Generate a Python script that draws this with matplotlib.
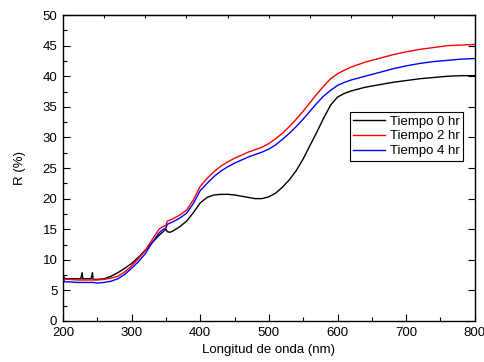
import matplotlib
matplotlib.use('Agg')
import matplotlib.pyplot as plt
import numpy as np

plt.rcParams['font.family'] = ['Liberation Sans', 'DejaVu Sans']

wavelength = [200, 202, 205, 210, 220, 226, 228, 229, 235, 241, 243, 244, 250,
              260, 270, 280, 290, 300, 310, 320, 330, 340, 345, 350, 352, 356, 360,
              370, 380, 390, 400, 410, 420, 430, 440, 450, 460, 470, 480, 490, 500,
              510, 520, 530, 540, 550, 560, 570, 580, 590, 600, 610, 620, 640, 660,
              680, 700, 720, 740, 760, 780, 800]

r_0hr = [7.6, 7.0, 6.9, 6.9, 6.9, 6.9, 7.9, 6.9, 6.9, 6.9, 7.9, 6.8, 6.8,
         6.9, 7.3, 7.9, 8.6, 9.4, 10.4, 11.6, 12.8, 14.0, 14.5, 15.0, 14.6, 14.5, 14.7,
         15.4, 16.3, 17.7, 19.3, 20.2, 20.6, 20.7, 20.7, 20.6, 20.4, 20.2, 20.0, 20.0, 20.3,
         20.9, 21.9, 23.1, 24.6, 26.5, 28.7, 30.9, 33.2, 35.3, 36.6, 37.2, 37.6, 38.2, 38.6,
         39.0, 39.3, 39.6, 39.8, 40.0, 40.1, 40.1]

r_2hr = [7.3, 6.9, 6.8, 6.8, 6.7, 6.7, 6.7, 6.7, 6.7, 6.7, 6.7, 6.7, 6.7,
         6.8, 7.0, 7.3, 8.0, 9.0, 10.2, 11.5, 13.3, 15.0, 15.4, 15.6, 16.3, 16.5, 16.7,
         17.3, 18.1, 19.8, 22.0, 23.3, 24.4, 25.3, 26.0, 26.6, 27.1, 27.6, 28.0, 28.4, 29.0,
         29.8, 30.7, 31.8, 33.0, 34.3, 35.7, 37.1, 38.4, 39.6, 40.4, 41.0, 41.5, 42.3, 42.9,
         43.5, 44.0, 44.4, 44.7, 45.0, 45.1, 45.2]

r_4hr = [7.8, 6.4, 6.4, 6.4, 6.3, 6.3, 6.3, 6.3, 6.3, 6.3, 6.3, 6.3, 6.2,
         6.3, 6.5, 6.9, 7.6, 8.6, 9.7, 11.0, 12.8, 14.4, 14.9, 15.2, 15.8, 16.0, 16.2,
         16.8, 17.6, 19.2, 21.3, 22.5, 23.6, 24.5, 25.2, 25.8, 26.3, 26.8, 27.2, 27.6, 28.1,
         28.8, 29.7, 30.7, 31.8, 33.0, 34.3, 35.6, 36.8, 37.7, 38.5, 39.0, 39.4, 40.0, 40.6,
         41.2, 41.7, 42.1, 42.4, 42.6, 42.8, 42.9]

labels = ['Tiempo 0 hr', 'Tiempo 2 hr', 'Tiempo 4 hr']
colors = ['black', 'red', 'blue']

fig = plt.figure(figsize=(4.84, 3.62), dpi=100)
ax = fig.add_axes([0.130, 0.1133, 0.851, 0.845])

for y, lab, c in zip([r_0hr, r_2hr, r_4hr], labels, colors):
    ax.plot(wavelength, y, color=c, lw=1.0, label=lab)

ax.set_xlim(200, 800)
ax.set_ylim(0, 50)
ax.set_xticks(np.arange(200, 801, 100))
ax.set_xticks(np.arange(250, 800, 100), minor=True)
ax.set_yticks(np.arange(0, 51, 5))
ax.set_yticks(np.arange(2.5, 50, 5), minor=True)
ax.tick_params(which='major', direction='in', length=5, width=0.8, labelsize=9.5, pad=4)
ax.tick_params(which='minor', direction='in', length=3, width=0.8)
ax.tick_params(axis='y', which='major', right=True)

top = ax.secondary_xaxis('top')
top.set_xticks(np.arange(260, 800, 60))
top.tick_params(direction='in', length=2, width=0.8, labeltop=False)

for s in ax.spines.values():
    s.set_linewidth(1.0)

ax.set_xlabel('Longitud de onda (nm)', fontsize=9.5, labelpad=4)
ax.set_ylabel('R (%)', fontsize=9.5, labelpad=12)

leg = ax.legend(loc='upper left', bbox_to_anchor=(0.697, 0.683), fontsize=9.5,
                frameon=True, fancybox=False, framealpha=1, edgecolor='black',
                handlelength=2.4, handletextpad=0.4, labelspacing=0.2,
                borderpad=0.25, borderaxespad=0)
leg.get_frame().set_linewidth(0.8)

fig.savefig('out.png', dpi=100)
